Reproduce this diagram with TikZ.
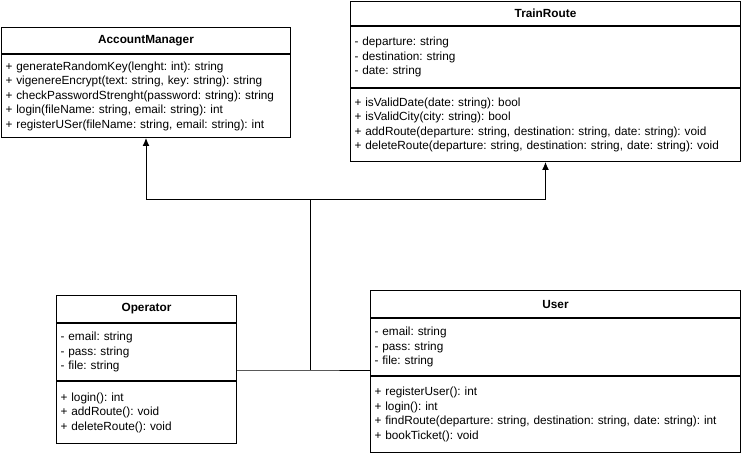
\documentclass[tikz,border=0pt]{standalone}
\usepackage{fontspec}
\setmainfont{Liberation Sans}
\usetikzlibrary{arrows.meta,positioning}

\begin{document}
\frenchspacing
\begin{tikzpicture}[>={Latex[length=8pt,width=7pt]},x=1pt,y=-1pt,line width=1pt,node distance=0pt]
	\tikzstyle{every node}=[font=\fontsize{11.8}{14.5}\selectfont]
	\tikzstyle{title}=[draw,anchor=north west,inner sep=0pt,font=\fontsize{11.8}{14.5}\selectfont\bfseries]
	\tikzstyle{part}=[draw,align=left,inner xsep=4pt,inner ysep=0pt]

	\useasboundingbox (0,0) rectangle (741,454);

	% AccountManager
	\node[title,minimum width=289pt,minimum height=26pt] (am) at (1,27) {AccountManager};
	\node[part,text width=281pt,minimum height=83pt,below=of am] (amops) {%
		+ generateRandomKey(lenght: int): string\\
		+ vigenereEncrypt(text: string, key: string): string\\
		+ checkPasswordStrenght(password: string): string\\
		+ login(fileName: string, email: string): int\\
		+ registerUSer(fileName: string, email: string): int};

	% TrainRoute
	\node[title,minimum width=390pt,minimum height=24pt] (tr) at (350,1) {TrainRoute};
	\node[part,text width=382pt,minimum height=61pt,below=of tr] (trattr) {%
		- departure: string\\
		- destination: string\\
		- date: string};
	\node[part,text width=382pt,minimum height=73pt,below=of trattr] (trops) {%
		+ isValidDate(date: string): bool\\
		+ isValidCity(city: string): bool\\
		+ addRoute(departure: string, destination: string, date: string): void\\
		+ deleteRoute(departure: string, destination: string, date: string): void};

	% Operator
	\node[title,minimum width=180pt,minimum height=27pt] (op) at (56,295) {Operator};
	\node[part,text width=172pt,minimum height=57pt,below=of op] (opattr) {%
		- email: string\\
		- pass: string\\
		- file: string};
	\node[part,text width=172pt,minimum height=62pt,below=of opattr] (opops) {%
		+ login(): int\\
		+ addRoute(): void\\
		+ deleteRoute(): void};

	% User
	\node[title,minimum width=370pt,minimum height=27pt] (us) at (370,290) {User};
	\node[part,text width=362pt,minimum height=57pt,below=of us] (usattr) {%
		- email: string\\
		- pass: string\\
		- file: string};
	\node[part,text width=362pt,minimum height=76pt,below=of usattr] (usops) {%
		+ registerUser(): int\\
		+ login(): int\\
		+ findRoute(departure: string, destination: string, date: string): int\\
		+ bookTicket(): void};

	% connectors
	\coordinate (join) at (310,370);
	\coordinate (fork) at (310,200);
	\draw (opattr.east |- join) -- (join) -- (usattr.west |- join);
	\draw (join) -- (fork);
	\draw[->] (fork) -| (amops.south);
	\draw[->] (fork) -| (trops.south);
\end{tikzpicture}
\end{document}
